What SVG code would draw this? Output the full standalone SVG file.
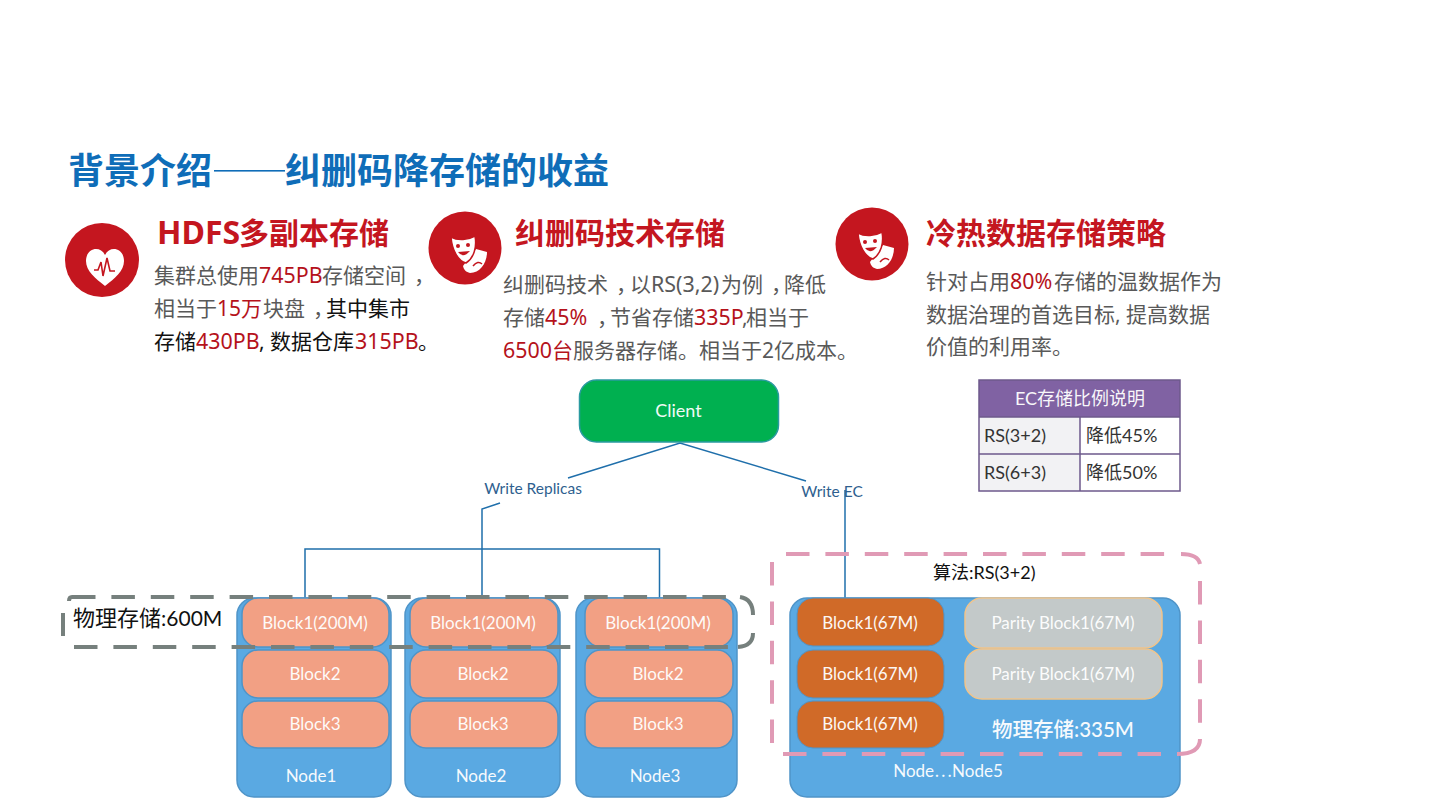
<svg xmlns="http://www.w3.org/2000/svg" width="1440" height="810" viewBox="0 0 1440 810">
<style>
text{font-family:"Noto Sans","Noto Sans CJK SC",sans-serif}
.t{font-family:"Noto Sans CJK SC",sans-serif;font-weight:700;font-size:36px;fill:#0f6db8}
.h{font-weight:700;font-size:30px;fill:#c4161f}
.b{font-size:21px;fill:#595959}
.r{fill:#b5121b}
.k{fill:#111}
.la{font-size:21.400px}
.cm{font-family:"Noto Sans CJK TC",sans-serif}
.hc{font-family:"Noto Sans CJK SC",sans-serif;font-feature-settings:"halt"}
.n{fill:#5aa9e2;stroke:#4f94c8;stroke-width:1.5}
.o{fill:#f2a084;stroke:#4f94c8;stroke-width:1.5}
.d{fill:#d06a28;stroke:#4f94c8;stroke-width:1}
.p{fill:#c3c9c9;stroke:#f0c48c;stroke-width:1.5}
.w{font-family:"Lato","Noto Sans CJK SC",sans-serif;font-size:17px;fill:#fff;text-anchor:middle;opacity:.95}
.l{fill:none;stroke:#1f6fab;stroke-width:1.5}
.e{font-family:"Lato","Noto Sans CJK SC",sans-serif;font-size:15.500px;fill:#2f5f8f;text-anchor:middle}
.c{font-family:"Lato","Noto Sans CJK SC",sans-serif;font-size:18px;fill:#333}
.lab{font-family:"Lato","Noto Sans CJK SC",sans-serif;font-size:21px;fill:#111}
.gd{fill:none;stroke:#76807d;stroke-width:4}
.pd{fill:none;stroke:#e09ab5;stroke-width:4}
.dash{stroke-dasharray:23.5 15.9}
</style>
<g id="title"><text class="t" x="68" y="184">背景介绍</text><rect x="214" y="170" width="71" height="1.6" fill="#0f6db8"/><text class="t" x="285" y="184">纠删码降存储的收益</text></g>

<g id="col1">
<circle cx="102" cy="260" r="37" fill="#c4161f"/>
<path d="M105 286C95 278 86 271 86 261C86 248 100 245 105 255C110 245 124 248 124 261C124 271 115 278 105 286Z" fill="#fff"/>
<path d="M94 270H98L101 262L103 276L107 258L110 271H115" fill="none" stroke="#c4161f" stroke-width="1.6"/>
<text class="h" x="157" y="244"><tspan font-size="32">HDFS</tspan><tspan x="239">多副本存储</tspan></text>
<text class="b" x="154" y="283">集群总使用<tspan class="r la" x="259">745PB</tspan><tspan x="322">存储空间</tspan><tspan class="hc" x="414">，</tspan></text>
<text class="b" x="154" y="316">相当于<tspan class="r" x="217">15万</tspan><tspan x="263">块盘</tspan><tspan class="hc" x="313">，</tspan><tspan class="k" x="326">其中集市</tspan></text>
<text class="b k" x="154" y="349">存储<tspan class="r la" x="196">430PB</tspan><tspan x="259">, 数据仓库</tspan><tspan class="r la" x="355">315PB</tspan><tspan x="418">。</tspan></text>
</g>

<g id="col2">
<circle cx="465" cy="248" r="36.500" fill="#c4161f"/>
<path d="M476 249L487 252C487 263 480 273 470 273C466 272 464 270 463 266Z" fill="#fff"/>
<path d="M451 237C458 241 468 240 475 236C477 247 474 258 466 263C458 261 452 250 451 237Z" fill="#fff" stroke="#c4161f" stroke-width="1.500"/>
<circle cx="458" cy="246" r="2" fill="#c4161f"/><circle cx="468" cy="245" r="2" fill="#c4161f"/>
<path d="M458 252Q463 259 470 251Z" fill="#c4161f"/>
<path d="M473 266Q478 260 482 264" fill="none" stroke="#c4161f" stroke-width="1.500"/>
<text class="h" x="515" y="244">纠删码技术存储</text>
<text class="b" x="503" y="292">纠删码技术<tspan class="hc" x="616">，</tspan><tspan x="630">以</tspan><tspan class="la" x="651">RS(3,2)</tspan><tspan x="721">为例</tspan><tspan class="hc" x="771">，</tspan><tspan x="784">降低</tspan></text>
<text class="b" x="503" y="325">存储<tspan class="r la" x="545">45%</tspan><tspan class="hc" x="597">，</tspan><tspan x="610">节省存储</tspan><tspan class="r la" x="694">335P</tspan><tspan x="742">,</tspan><tspan x="746">相当于</tspan></text>
<text class="b" x="503" y="358"><tspan class="r la">6500</tspan><tspan class="r" x="552">台</tspan><tspan x="573">服务器存储。相当于2亿成本。</tspan></text>
</g>

<g id="col3">
<circle cx="872" cy="244" r="36.500" fill="#c4161f"/>
<path d="M883 245L894 248C894 259 887 269 877 269C873 268 871 266 870 262Z" fill="#fff"/>
<path d="M858 233C865 237 875 236 882 232C884 243 881 254 873 259C865 257 859 246 858 233Z" fill="#fff" stroke="#c4161f" stroke-width="1.500"/>
<circle cx="865" cy="242" r="2" fill="#c4161f"/><circle cx="875" cy="241" r="2" fill="#c4161f"/>
<path d="M865 248Q870 255 877 247Z" fill="#c4161f"/>
<path d="M880 262Q885 256 889 260" fill="none" stroke="#c4161f" stroke-width="1.500"/>
<text class="h" x="926" y="244">冷热数据存储策略</text>
<text class="b" x="926" y="289">针对占用<tspan class="r la" x="1010">80%</tspan><tspan x="1054">存储的温数据作为</tspan></text>
<text class="b" x="926" y="322">数据治理的首选目标, 提高数据</text>
<text class="b" x="926" y="354">价值的利用率。</text>
</g>

<g id="table">
<rect x="979" y="380" width="201" height="37" fill="#8062a3"/>
<rect x="979" y="417" width="101" height="37" fill="#f2f2f4"/><rect x="1080" y="417" width="100" height="37" fill="#fff"/>
<rect x="979" y="454" width="101" height="37" fill="#f2f2f4"/><rect x="1080" y="454" width="100" height="37" fill="#fff"/>
<path d="M979 380H1180V491H979ZM979 417H1180M979 454H1180M1080 417V491" fill="none" stroke="#6d5a8c" stroke-width="1.500"/>
<text class="w" x="1080" y="405" style="font-size:18px">EC存储比例说明</text>
<text class="c" x="984" y="442">RS(3+2)</text><text class="c" x="984" y="479">RS(6+3)</text>
<text class="c k" x="1086" y="442">降低45%</text><text class="c k" x="1086" y="479">降低50%</text>
</g>

<g id="connectors">
<path class="l" d="M568 478L680 443L806 481"/>
<path class="l" d="M500 503L482 509V598"/>
<path class="l" d="M305 598V549H659.500V598"/>
<path class="l" d="M845 490V598"/>
</g>
<g id="client"><rect x="579.500" y="380" width="199" height="62" rx="17" fill="#00b050" stroke="#2a9aa0" stroke-width="1.500"/><text class="w" x="678.500" y="417" style="font-size:18px">Client</text></g>
<text class="e" x="533" y="494">Write Replicas</text>
<text class="e" x="832" y="497">Write EC</text>

<g id="node1"><rect class="n" x="237" y="598" width="154" height="199" rx="17"/>
<rect class="o" x="242" y="598" width="147" height="49" rx="16"/><text class="w" x="315" y="629">Block1(200M)</text>
<rect class="o" x="242" y="650" width="147" height="48" rx="16"/><text class="w" x="315" y="680">Block2</text>
<rect class="o" x="242" y="701" width="147" height="47" rx="16"/><text class="w" x="315" y="730">Block3</text>
<text class="w" x="311" y="782">Node1</text></g>
<g id="node2"><rect class="n" x="405" y="598" width="155" height="199" rx="17"/>
<rect class="o" x="410" y="598" width="148" height="49" rx="16"/><text class="w" x="483" y="629">Block1(200M)</text>
<rect class="o" x="410" y="650" width="148" height="48" rx="16"/><text class="w" x="483" y="680">Block2</text>
<rect class="o" x="410" y="701" width="148" height="47" rx="16"/><text class="w" x="483" y="730">Block3</text>
<text class="w" x="481" y="782">Node2</text></g>
<g id="node3"><rect class="n" x="576" y="598" width="161" height="199" rx="17"/>
<rect class="o" x="585" y="598" width="148" height="49" rx="16"/><text class="w" x="658" y="629">Block1(200M)</text>
<rect class="o" x="585" y="650" width="148" height="48" rx="16"/><text class="w" x="658" y="680">Block2</text>
<rect class="o" x="585" y="701" width="148" height="47" rx="16"/><text class="w" x="658" y="730">Block3</text>
<text class="w" x="655" y="782">Node3</text></g>
<g id="nodeEC"><rect class="n" x="790" y="598" width="390" height="199" rx="17"/>
<rect class="d" x="797" y="598" width="147" height="48" rx="16"/><text class="w" x="870" y="629">Block1(67M)</text>
<rect class="d" x="797" y="650" width="147" height="48" rx="16"/><text class="w" x="870" y="680">Block1(67M)</text>
<rect class="d" x="797" y="701" width="147" height="47" rx="16"/><text class="w" x="870" y="730">Block1(67M)</text>
<rect class="p" x="965" y="598" width="197" height="50" rx="17"/><text class="w" x="1063" y="629">Parity Block1(67M)</text>
<rect class="p" x="965" y="649" width="197" height="50" rx="17"/><text class="w" x="1063" y="680">Parity Block1(67M)</text>
<text class="w" x="1063" y="737" style="font-size:20.500px;font-weight:500">物理存储:335M</text>
<text class="w" x="948" y="777">Node<tspan class="cm">…</tspan>Node5</text></g>

<g id="groups">
<path class="gd dash" d="M72 597H728"/>
<path class="gd dash" d="M74 647H730"/>
<path class="gd" d="M63 613V636M69 601Q69 597 72 597M740 597Q753 599 753 615M753 633Q753 646 738 647"/>
<path class="pd dash" d="M786 554H1165"/>
<path class="pd dash" d="M783 754H1161"/>
<path class="pd dash" d="M772 562V744"/>
<path class="pd dash" d="M1200 581V723"/>
<path class="pd" d="M1181 554Q1198 554 1200 564M1200 739Q1200 754 1177 754"/>
</g>
<text class="lab" x="73" y="626"><tspan style="font-size:22px">物理存储</tspan>:600M</text>
<text class="lab" x="933" y="579" style="font-size:18px">算法:RS(3+2)</text>
</svg>
